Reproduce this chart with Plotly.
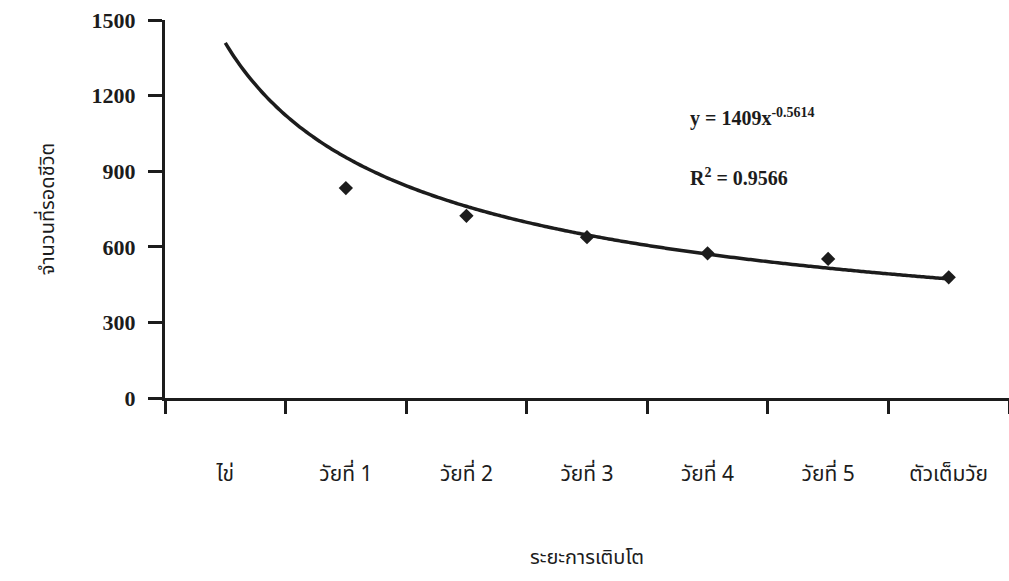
import numpy as np
import plotly.graph_objects as go

# ---- data ----
stages = ["ไข่", "วัยที่ 1", "วัยที่ 2", "วัยที่ 3", "วัยที่ 4", "วัยที่ 5", "ตัวเต็มวัย"]
survivors = [1577, 833, 723, 638, 574, 552, 479]   # egg value lies above the 1500 axis max (hidden)
trend_a = 1409
trend_b = -0.5614
r_squared = 0.9566
y_ticks = [0, 300, 600, 900, 1200, 1500]

INK = "#1c1c1c"
SERIF = "Liberation Serif, Times New Roman, serif"
THAI = "Noto Sans Thai, Loma, Garuda, Tlwg Typo, DejaVu Sans, sans-serif"

pos = list(range(len(stages)))

# power trendline from the equation printed on the chart (x = 1..7)
tx = np.linspace(1, len(stages), 200)
ty = trend_a * tx ** trend_b

fig = go.Figure()
fig.add_trace(go.Scatter(
    x=tx - 1, y=ty, mode="lines",
    line=dict(color=INK, width=3.5, shape="spline"),
    hoverinfo="skip", showlegend=False,
))
fig.add_trace(go.Scatter(
    x=pos, y=survivors, mode="markers",
    marker=dict(symbol="diamond", size=11, color=INK),
    showlegend=False,
))

fig.add_annotation(
    xref="paper", yref="paper", x=0.62, y=0.742, xanchor="left", yanchor="middle",
    text=f"y = {trend_a}x<sup>{trend_b}</sup>", showarrow=False,
    font=dict(family=SERIF, size=20, color=INK, weight="bold"),
)
fig.add_annotation(
    xref="paper", yref="paper", x=0.62, y=0.585, xanchor="left", yanchor="middle",
    text=f"R<sup>2</sup> = {r_squared}", showarrow=False,
    font=dict(family=SERIF, size=20, color=INK, weight="bold"),
)

fig.update_layout(
    width=1009, height=581,
    margin=dict(l=165, r=0, t=20, b=183, autoexpand=False),
    paper_bgcolor="white", plot_bgcolor="white",
    xaxis=dict(
        range=[-0.5, len(stages) - 0.5], automargin=False,
        tickmode="array", tickvals=pos, ticktext=stages,
        ticks="", showgrid=False, zeroline=False,
        showline=True, linecolor=INK, linewidth=3,
        tickfont=dict(family=THAI, size=21, color=INK),
        ticklabelstandoff=55, ticklabeloverflow="allow",
        minor=dict(tickmode="array", tickvals=[p - 0.5 for p in pos] + [len(stages) - 0.5],
                   ticks="outside", ticklen=13, tickwidth=3, tickcolor=INK, showgrid=False),
        title=dict(text="ระยะการเติบโต", font=dict(family=THAI, size=20, color=INK), standoff=61),
    ),
    yaxis=dict(
        range=[0, 1500], automargin=False,
        tickmode="array", tickvals=y_ticks,
        ticks="outside", ticklen=14, tickwidth=3, tickcolor=INK,
        showgrid=False, zeroline=False,
        showline=True, linecolor=INK, linewidth=3,
        tickfont=dict(family=SERIF, size=22, color=INK, weight="bold"),
        ticklabelstandoff=8, ticklabeloverflow="allow",
        title=dict(text="จำนวนที่รอดชีวิต", font=dict(family=THAI, size=20, color=INK), standoff=32),
    ),
)

fig.write_html(
    "out.html",
    config={"displayModeBar": False},
    post_script="document.body.style.margin='0';document.body.style.overflow='hidden';",
)
